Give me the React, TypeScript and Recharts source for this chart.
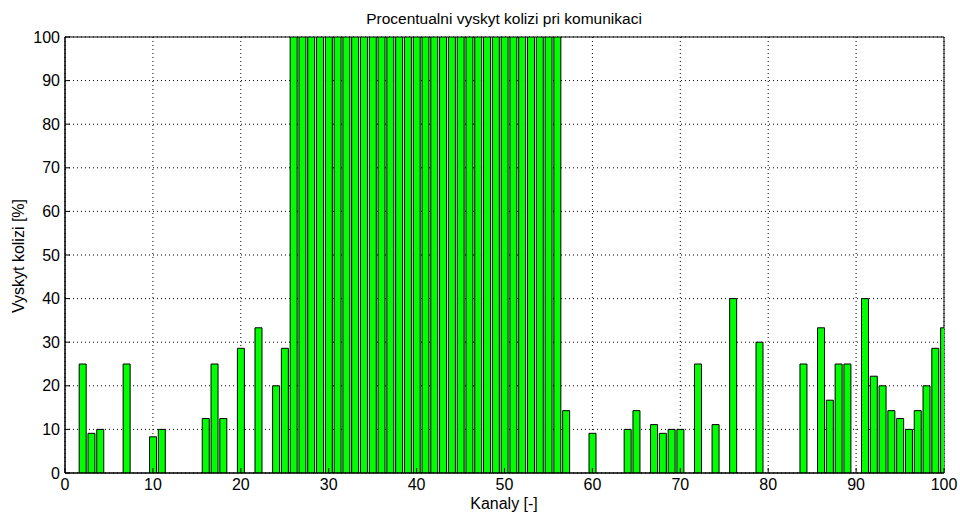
import React from 'react';
import { BarChart, Bar, XAxis, YAxis, CartesianGrid, ReferenceArea } from 'recharts';

const channels = [2, 3, 4, 7, 10, 11, 16, 17, 18, 20, 22, 24, 25,
  26, 27, 28, 29, 30, 31, 32, 33, 34, 35, 36, 37, 38, 39, 40, 41, 42, 43, 44, 45, 46, 47, 48, 49, 50, 51, 52, 53, 54, 55, 56,
  57, 60, 64, 65, 67, 68, 69, 70, 72, 74, 76, 79, 84, 86, 87, 88, 89, 91, 92, 93, 94, 95, 96, 97, 98, 99, 100];
const collisions = [25, 9.1, 10, 25, 8.3, 10, 12.5, 25, 12.5, 28.6, 33.3, 20, 28.6,
  100, 100, 100, 100, 100, 100, 100, 100, 100, 100, 100, 100, 100, 100, 100, 100, 100, 100, 100, 100, 100, 100, 100, 100, 100, 100, 100, 100, 100, 100, 100,
  14.3, 9.1, 10, 14.3, 11.1, 9.1, 10, 10, 25, 11.1, 40, 30, 25, 33.3, 16.7, 25, 25, 40, 22.2, 20, 14.3, 12.5, 10, 14.3, 20, 28.6, 33.3];
const xTicks = [0, 10, 20, 30, 40, 50, 60, 70, 80, 90, 100];
const yTicks = [0, 10, 20, 30, 40, 50, 60, 70, 80, 90, 100];

const title = 'Procentualni vyskyt kolizi pri komunikaci';
const xLabel = 'Kanaly [-]';
const yLabel = 'Vyskyt kolizi [%]';

const data = channels.map((c, i) => ({ ch: c, v: collisions[i] }));

const font = 'Arial, "Liberation Sans", Helvetica, sans-serif';

export default function App() {
  return (
    <div style={{ position: 'absolute', left: 0, top: 0, width: 960, height: 514, background: '#fff' }}>
      <BarChart width={960} height={514} data={data} margin={{ top: 37, right: 16, bottom: 21, left: 15 }}>
        <CartesianGrid stroke="#000" strokeDasharray="1 3" strokeWidth={1} />
        <XAxis
          dataKey="ch"
          type="number"
          domain={[0, 100]}
          ticks={xTicks}
          allowDataOverflow
          height={20}
          tickSize={-5}
          tickMargin={11}
          stroke="#000"
          tick={{ fill: '#000', fontSize: 16, fontFamily: font }}
          tickLine={{ stroke: '#000' }}
        />
        <YAxis
          type="number"
          domain={[0, 100]}
          ticks={yTicks}
          allowDataOverflow
          width={50}
          tickSize={-5}
          tickMargin={10}
          stroke="#000"
          tick={{ fill: '#000', fontSize: 16, fontFamily: font }}
          tickLine={{ stroke: '#000' }}
        />
        <ReferenceArea x1={0} x2={100} y1={0} y2={100} fill="none" stroke="#000" strokeOpacity={1} fillOpacity={0} ifOverflow="visible" />
        <Bar dataKey="v" fill="#00ff00" stroke="#000" strokeWidth={1} barSize={7} isAnimationActive={false} />
        <text x={504} y={24} textAnchor="middle" fontSize={15.5} fontFamily={font} fill="#000">{title}</text>
        <text x={504} y={509} textAnchor="middle" fontSize={16} fontFamily={font} fill="#000">{xLabel}</text>
        <text x={24} y={256} textAnchor="middle" fontSize={16} fontFamily={font} fill="#000" transform="rotate(-90 24 256)">{yLabel}</text>
      </BarChart>
    </div>
  );
}
